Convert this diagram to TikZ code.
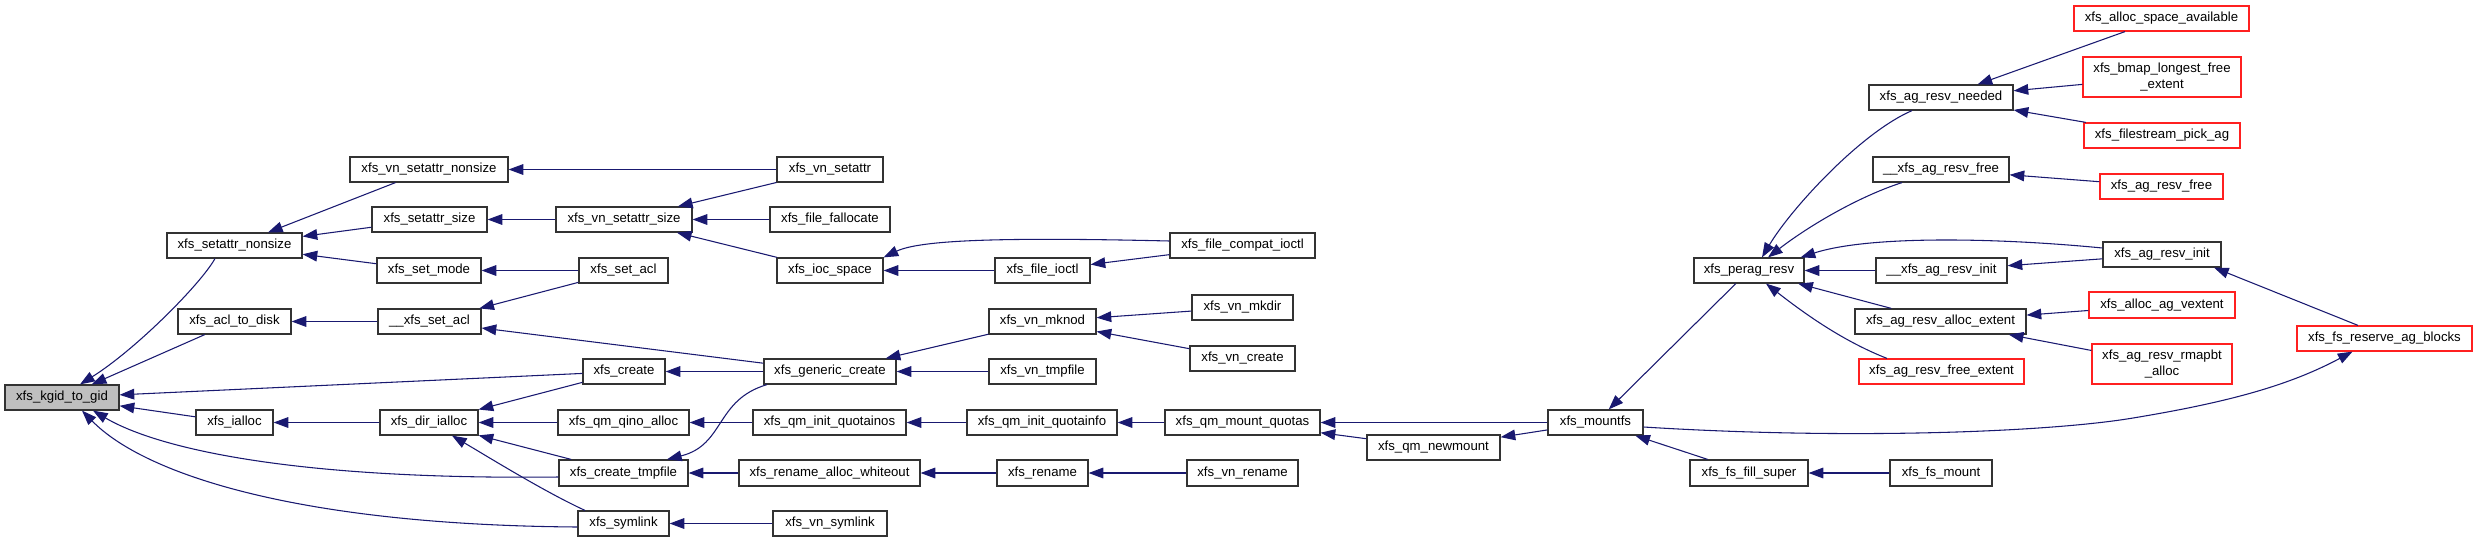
\documentclass[tikz,border=0pt]{standalone}
\usepackage{fontspec}
\setmainfont{Liberation Sans}
\usetikzlibrary{arrows.meta,calc}
\definecolor{edgeblue}{HTML}{191970}
\definecolor{kgidfill}{HTML}{BFBFBF}
\definecolor{boxred}{HTML}{FF2020}
\tikzset{
  fnbox/.style={draw=black!80, line width=0.9pt, inner sep=0pt, fill=white,
    font=\fontsize{9.9}{11.6}\selectfont, align=center},
  redbox/.style={draw=boxred},
  hlbox/.style={fill=kgidfill},
  call/.style={draw=edgeblue, color=edgeblue, line width=0.8pt,
    -{Triangle[length=11pt,width=8pt]}},
}
\newcommand\fnode[7][]{\node[fnbox,#1,minimum width={(#5-#3)*0.75pt},minimum height={(#6-#4)*0.75pt}] (#2) at ({(#3+#5)/2},{(#4+#6)/2}) {#7};}
\begin{document}
\begin{tikzpicture}[x=0.75pt,y=-0.75pt]
\useasboundingbox (0,0) rectangle (2477,543);
% column 0
\fnode[hlbox]{kgid}{5}{385}{119}{410}{xfs\_kgid\_to\_gid}
% column 1
\fnode{sn}{167}{233}{302}{258}{xfs\_setattr\_nonsize}
\fnode{atd}{178}{309}{291}{334}{xfs\_acl\_to\_disk}
\fnode{ial}{196}{410}{273}{435}{xfs\_ialloc}
% column 2
\fnode{vsn}{350}{157}{508}{182}{xfs\_vn\_setattr\_nonsize}
\fnode{ssz}{372}{207}{487}{232}{xfs\_setattr\_size}
\fnode{smode}{377}{258}{481}{283}{xfs\_set\_mode}
\fnode{xsacl}{378}{309}{481}{334}{\_\_xfs\_set\_acl}
\fnode{dia}{380}{410}{478}{435}{xfs\_dir\_ialloc}
% column 3
\fnode{vss}{556}{207}{692}{232}{xfs\_vn\_setattr\_size}
\fnode{sacl}{579}{258}{668}{283}{xfs\_set\_acl}
\fnode{cre}{583}{359}{665}{384}{xfs\_create}
\fnode{qqa}{558}{410}{689}{435}{xfs\_qm\_qino\_alloc}
\fnode{ctmp}{559}{460}{688}{486}{xfs\_create\_tmpfile}
\fnode{sym}{578}{511}{669}{536}{xfs\_symlink}
% column 4
\fnode{vsa}{777}{157}{883}{182}{xfs\_vn\_setattr}
\fnode{ffa}{770}{207}{890}{232}{xfs\_file\_fallocate}
\fnode{ioc}{777}{258}{883}{283}{xfs\_ioc\_space}
\fnode{gcr}{764}{359}{896}{384}{xfs\_generic\_create}
\fnode{qiq}{753}{410}{906}{435}{xfs\_qm\_init\_quotainos}
\fnode{raw}{739}{460}{920}{486}{xfs\_rename\_alloc\_whiteout}
\fnode{vsym}{773}{511}{887}{536}{xfs\_vn\_symlink}
% column 5
\fnode{fio}{995}{258}{1090}{283}{xfs\_file\_ioctl}
\fnode{mkn}{989}{309}{1096}{334}{xfs\_vn\_mknod}
\fnode{vtmp}{989}{359}{1096}{384}{xfs\_vn\_tmpfile}
\fnode{qiqi}{967}{410}{1117}{435}{xfs\_qm\_init\_quotainfo}
\fnode{ren}{997}{460}{1088}{486}{xfs\_rename}
% column 6
\fnode{fci}{1170}{233}{1315}{258}{xfs\_file\_compat\_ioctl}
\fnode{vmkdir}{1192}{295}{1293}{320}{xfs\_vn\_mkdir}
\fnode{vcre}{1190}{346}{1295}{371}{xfs\_vn\_create}
\fnode{qmq}{1165}{410}{1320}{435}{xfs\_qm\_mount\_quotas}
\fnode{vren}{1187}{460}{1298}{486}{xfs\_vn\_rename}
% column 7/8
\fnode{qnm}{1367}{435}{1500}{460}{xfs\_qm\_newmount}
\fnode{mfs}{1548}{410}{1643}{435}{xfs\_mountfs}
% column 9
\fnode{prv}{1694}{258}{1804}{283}{xfs\_perag\_resv}
\fnode{ffs}{1690}{460}{1808}{486}{xfs\_fs\_fill\_super}
% column 10
\fnode{arn}{1869}{85}{2013}{110}{xfs\_ag\_resv\_needed}
\fnode{uarf}{1873}{157}{2009}{182}{\_\_xfs\_ag\_resv\_free}
\fnode{uari}{1876}{258}{2007}{283}{\_\_xfs\_ag\_resv\_init}
\fnode{arae}{1855}{309}{2026}{334}{xfs\_ag\_resv\_alloc\_extent}
\fnode[redbox]{arfe}{1859}{359}{2024}{384}{xfs\_ag\_resv\_free\_extent}
\fnode{fsm}{1890}{460}{1992}{486}{xfs\_fs\_mount}
% column 11
\fnode[redbox]{asa}{2074}{6}{2249}{31}{xfs\_alloc\_space\_available}
\fnode[redbox]{bmap}{2083}{57}{2241}{97}{xfs\_bmap\_longest\_free\\\_extent}
\fnode[redbox]{fpa}{2084}{123}{2240}{148}{xfs\_filestream\_pick\_ag}
\fnode[redbox]{arf}{2100}{174}{2223}{199}{xfs\_ag\_resv\_free}
\fnode{ari}{2103}{242}{2221}{267}{xfs\_ag\_resv\_init}
\fnode[redbox]{aav}{2089}{292}{2235}{318}{xfs\_alloc\_ag\_vextent}
\fnode[redbox]{armb}{2092}{344}{2232}{384}{xfs\_ag\_resv\_rmapbt\\\_alloc}
% column 12
\fnode[redbox]{fsrab}{2297}{326}{2472}{351}{xfs\_fs\_reserve\_ag\_blocks}

% ---- edges (caller -> callee) ----
\draw[call] ($(sn.south)+(-19.5,0)$) .. controls (200,285) and (135,350) .. ($(kgid.north)+(18,0)$);
\draw[call] (atd) -- (kgid);
\draw[call] (cre) -- (kgid);
\draw[call] (ial) -- (kgid);
\draw[call] ($(ctmp.west)+(0,4)$) .. controls (300,480) and (160,450) .. ($(kgid.south)+(31,0)$);
\draw[call] ($(sym.west)+(0,3.5)$) .. controls (300,525) and (145,475) .. ($(kgid.south)+(20,0)$);

\draw[call] (vsn) -- (sn);
\draw[call] (ssz) -- (sn);
\draw[call] (smode) -- (sn);
\draw[call] (xsacl) -- (atd);
\draw[call] (dia) -- (ial);

\draw[call] (vsa) -- (vsn);
\draw[call] (vss) -- (ssz);
\draw[call] (sacl) -- (smode);
\draw[call] (sacl) -- (xsacl);
\draw[call] (gcr) -- (xsacl);
\draw[call] (cre) -- (dia);
\draw[call] (qqa) -- (dia);
\draw[call] (ctmp) -- (dia);
\draw[call] ($(sym.north)+(-38.5,0)$) .. controls (545,492) and (490,458) .. ($(dia.south)+(23,0)$);

\draw[call] (vsa) -- (vss);
\draw[call] (ffa) -- (vss);
\draw[call] (ioc) -- (vss);
\draw[call] (gcr) -- (cre);
\draw[call] ($(gcr.south)+(-63,0)$) .. controls (715,400) and (725,445) .. ($(ctmp.north)+(43.5,0)$);
\draw[call] (qiq) -- (qqa);
\draw[call] (raw) -- (ctmp);
\draw[call] (vsym) -- (sym);

\draw[call] ($(fci.west)+(0,-4.5)$) .. controls (1000,237) and (920,240) .. (ioc.north east);
\draw[call] (fio) -- (ioc);
\draw[call] (fci) -- (fio);
\draw[call] (mkn) -- (gcr);
\draw[call] (vtmp) -- (gcr);
\draw[call] (qiqi) -- (qiq);
\draw[call] (ren) -- (raw);

\draw[call] (vmkdir) -- (mkn);
\draw[call] (vcre) -- (mkn);
\draw[call] (qmq) -- (qiqi);
\draw[call] (vren) -- (ren);

\draw[call] (mfs) -- (qmq);
\draw[call] (qnm) -- (qmq);
\draw[call] (mfs) -- (qnm);

\draw[call] (prv) -- (mfs);
\draw[call] (ffs) -- (mfs);
\draw[call] ($(mfs.east)+(0,4.5)$) .. controls (1850,440) and (2050,432) .. (2133,418)
  .. controls (2230,402) and (2290,385) .. ($(fsrab.south)+(-32,0)$);
\draw[call] (fsm) -- (ffs);

\draw[call] ($(arn.south)+(-29,0)$) .. controls (1860,133) and (1790,210) .. ($(prv.north)+(13,0)$);
\draw[call] ($(uarf.south)+(-39,0)$) .. controls (1860,196) and (1810,225) .. ($(prv.north)+(19,0)$);
\draw[call] ($(ari.west)+(0,-6.5)$) .. controls (2000,238) and (1870,235) .. ($(prv.north east)+(-4,0)$);
\draw[call] (uari) -- (prv);
\draw[call] (arae) -- (prv);
\draw[call] ($(arfe.north)+(-54.5,0)$) .. controls (1840,340) and (1800,310) .. ($(prv.south)+(17,0)$);

\draw[call] (asa) -- (arn);
\draw[call] (bmap) -- (arn);
\draw[call] (fpa) -- (arn);
\draw[call] (arf) -- (uarf);
\draw[call] (ari) -- (uari);
\draw[call] (aav) -- (arae);
\draw[call] (armb) -- (arae);
\draw[call] ($(fsrab.north)+(-26.5,0)$) -- ($(ari.south)+(52,0)$);
\end{tikzpicture}
\end{document}
